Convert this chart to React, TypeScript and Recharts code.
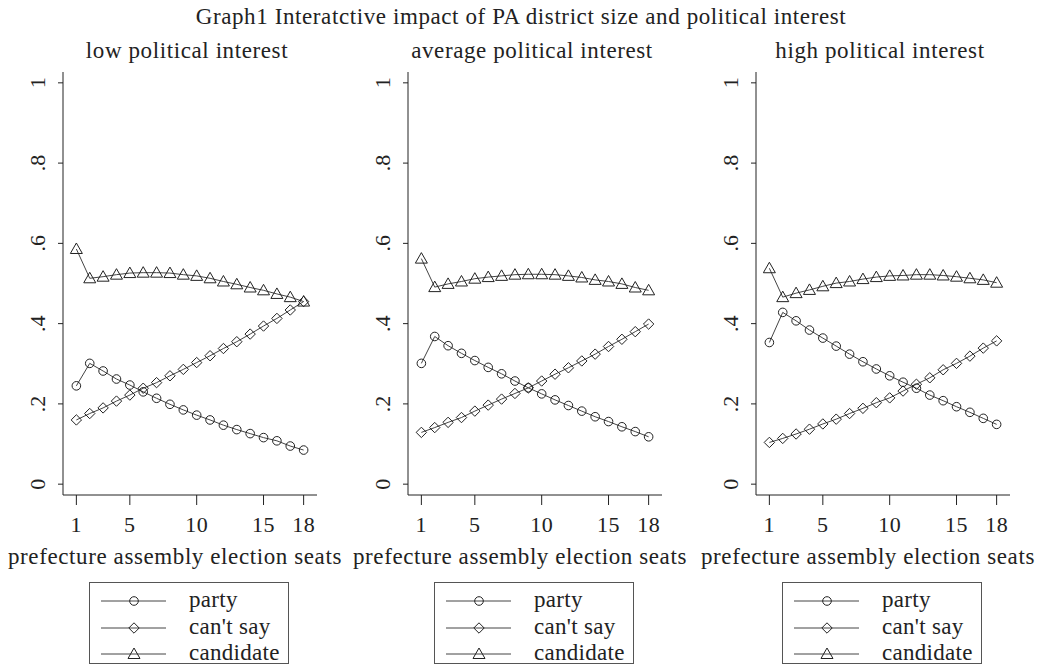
import { CartesianGrid, Line, LineChart, XAxis, YAxis } from "recharts";

const seats = [1, 2, 3, 4, 5, 6, 7, 8, 9, 10, 11, 12, 13, 14, 15, 16, 17, 18];
const xTicks = [1, 5, 10, 15, 18];
const yTicks = [0, 0.2, 0.4, 0.6, 0.8, 1];

const panelTitles = ["low political interest", "average political interest", "high political interest"];
const seriesNames = ["party", "can't say", "candidate"];

const lowParty = [0.245, 0.301, 0.282, 0.262, 0.247, 0.23, 0.214, 0.199, 0.185, 0.172, 0.16, 0.147, 0.136, 0.126, 0.116, 0.108, 0.095, 0.085];
const lowCantSay = [0.16, 0.176, 0.19, 0.207, 0.222, 0.239, 0.253, 0.27, 0.286, 0.303, 0.32, 0.338, 0.355, 0.374, 0.394, 0.413, 0.434, 0.455];
const lowCandidate = [0.586, 0.513, 0.517, 0.522, 0.526, 0.527, 0.527, 0.526, 0.522, 0.519, 0.513, 0.505, 0.498, 0.49, 0.483, 0.474, 0.466, 0.455];

const avgParty = [0.301, 0.368, 0.345, 0.326, 0.308, 0.291, 0.275, 0.257, 0.24, 0.225, 0.21, 0.196, 0.182, 0.168, 0.156, 0.143, 0.131, 0.118];
const avgCantSay = [0.129, 0.141, 0.154, 0.166, 0.182, 0.197, 0.212, 0.226, 0.24, 0.257, 0.274, 0.29, 0.307, 0.324, 0.343, 0.361, 0.38, 0.399];
const avgCandidate = [0.562, 0.491, 0.499, 0.505, 0.512, 0.516, 0.519, 0.522, 0.523, 0.523, 0.522, 0.519, 0.515, 0.509, 0.505, 0.499, 0.49, 0.483];

const highParty = [0.353, 0.428, 0.407, 0.384, 0.364, 0.344, 0.324, 0.305, 0.287, 0.27, 0.254, 0.239, 0.222, 0.208, 0.193, 0.179, 0.164, 0.149];
const highCantSay = [0.104, 0.114, 0.125, 0.137, 0.15, 0.162, 0.176, 0.189, 0.203, 0.215, 0.232, 0.249, 0.265, 0.285, 0.301, 0.319, 0.339, 0.357];
const highCandidate = [0.538, 0.466, 0.476, 0.484, 0.493, 0.501, 0.505, 0.511, 0.516, 0.519, 0.52, 0.522, 0.522, 0.52, 0.517, 0.513, 0.509, 0.502];

const FONT = "Liberation Serif, DejaVu Serif, serif";
const INK = "#222";
const LINE = "#444";

// plot area left edge of each panel (px), plot is 254 wide
const plotLefts = [63, 408, 756];
const PLOT_W = 254;
const PLOT_TOP = 72;
const PLOT_BOTTOM = 495;
const Y_AXIS_W = 60;

type Shape = "circle" | "diamond" | "triangle";
const shapes: Shape[] = ["circle", "diamond", "triangle"];

function Marker({ cx, cy, shape }: { cx: number; cy: number; shape: Shape }) {
  if (shape === "circle") return <circle cx={cx} cy={cy} r={4.3} fill="none" stroke={INK} strokeWidth={1} />;
  if (shape === "diamond") {
    const r = 5.2;
    return <path d={`M${cx},${cy - r}L${cx + r},${cy}L${cx},${cy + r}L${cx - r},${cy}Z`} fill="none" stroke={INK} strokeWidth={1} />;
  }
  return <path d={`M${cx},${cy - 6}L${cx + 6},${cy + 4.5}L${cx - 6},${cy + 4.5}Z`} fill="none" stroke={INK} strokeWidth={1} />;
}

const dotFor = (shape: Shape) => (p: any) => <Marker key={`${shape}-${p.index}`} cx={p.cx} cy={p.cy} shape={shape} />;

const fmtY = (v: number) => (v === 0 ? "0" : v === 1 ? "1" : "." + Math.round(v * 10));

function YTick({ x, y, payload }: any) {
  return (
    <text x={x} y={y} transform={`rotate(-90, ${x}, ${y})`} textAnchor="middle" style={{ fontFamily: FONT }} fontSize={22} fill={INK}>
      {fmtY(payload.value)}
    </text>
  );
}

function XTick({ x, payload }: any) {
  // labels sit on a fixed baseline below the axis line
  return (
    <text x={x} y={PLOT_BOTTOM + 37} textAnchor="middle" style={{ fontFamily: FONT }} fontSize={22} fill={INK} letterSpacing={0.5}>
      {payload.value}
    </text>
  );
}

const textStyle = { position: "absolute" as const, fontFamily: FONT, fontSize: 23, letterSpacing: 0.6, color: INK, lineHeight: 1, whiteSpace: "nowrap" as const, transform: "translate(-50%, -50%)" };

function LegendBox({ center }: { center: number }) {
  return (
    <div style={{ position: "absolute", left: center - 101, top: 582, width: 200, height: 82, border: "1px solid #555", boxSizing: "border-box" }}>
      {seriesNames.map((name, i) => (
        <div key={name} style={{ position: "absolute", left: 0, top: 6 + i * 26.5, height: 24, width: 200 }}>
          <svg width={80} height={24} style={{ position: "absolute", left: 10, top: 0 }}>
            <line x1={1} x2={66} y1={12} y2={12} stroke={LINE} strokeWidth={1} />
            <Marker cx={34} cy={12} shape={shapes[i]} />
          </svg>
          <span style={{ position: "absolute", left: 99, top: 0, fontFamily: FONT, fontSize: 23, letterSpacing: 0.3, color: INK, lineHeight: "22px" }}>{name}</span>
        </div>
      ))}
    </div>
  );
}

function Panel({ index, party, cantSay, candidate }: { index: number; party: number[]; cantSay: number[]; candidate: number[] }) {
  const data = seats.map((s, i) => ({ seats: s, party: party[i], cantSay: cantSay[i], candidate: candidate[i] }));
  const left = plotLefts[index] - Y_AXIS_W;
  const center = plotLefts[index] + PLOT_W / 2;
  return (
    <>
      <div style={{ ...textStyle, left: center - 3, top: 50 }}>{panelTitles[index]}</div>
      <div style={{ position: "absolute", left, top: 0 }}>
        <LineChart width={Y_AXIS_W + PLOT_W + 4} height={PLOT_BOTTOM + 45} data={data} margin={{ top: PLOT_TOP, right: 4, bottom: 0, left: 0 }}>
          <CartesianGrid stroke="none" />
          <XAxis
            dataKey="seats"
            type="number"
            domain={[0, 19]}
            ticks={xTicks}
            height={45}
            stroke={INK}
            tickSize={10}
            tickMargin={4}
            tick={<XTick />}
          />
          <YAxis
            type="number"
            domain={[-0.027, 1.027]}
            ticks={yTicks}
            width={Y_AXIS_W}
            stroke={INK}
            tickSize={5}
            tickMargin={13}
            tick={<YTick />}
          />
          <Line dataKey="party" stroke={LINE} strokeWidth={1} dot={dotFor("circle")} isAnimationActive={false} />
          <Line dataKey="cantSay" stroke={LINE} strokeWidth={1} dot={dotFor("diamond")} isAnimationActive={false} />
          <Line dataKey="candidate" stroke={LINE} strokeWidth={1} dot={dotFor("triangle")} isAnimationActive={false} />
        </LineChart>
      </div>
      <div style={{ ...textStyle, left: center - 15, top: 556 }}>prefecture assembly election seats</div>
      <LegendBox center={center} />
    </>
  );
}

export default function App() {
  return (
    <div style={{ position: "absolute", left: 0, top: 0, width: 1042, height: 672, background: "#fff", overflow: "hidden" }}>
      <div style={{ ...textStyle, left: 521, top: 16 }}>Graph1 Interatctive impact of PA district size and political interest</div>
      <Panel index={0} party={lowParty} cantSay={lowCantSay} candidate={lowCandidate} />
      <Panel index={1} party={avgParty} cantSay={avgCantSay} candidate={avgCandidate} />
      <Panel index={2} party={highParty} cantSay={highCantSay} candidate={highCandidate} />
    </div>
  );
}
